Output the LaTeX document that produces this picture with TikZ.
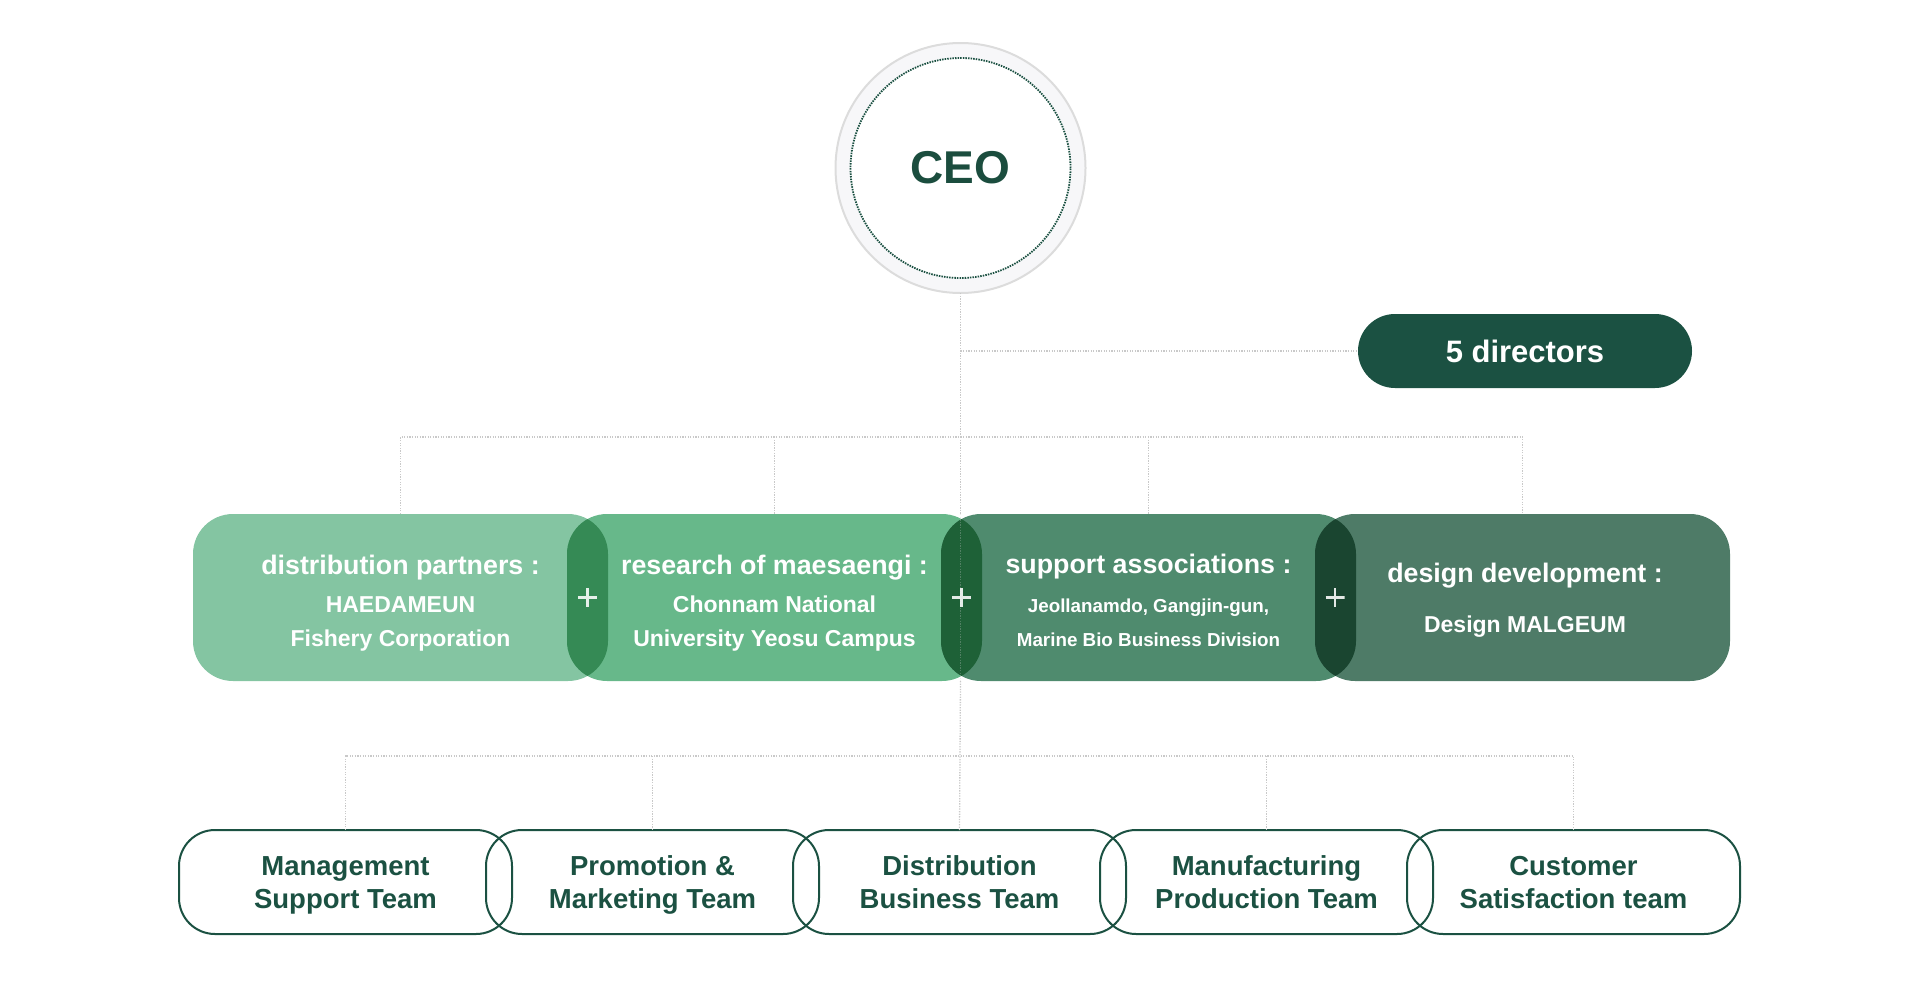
\documentclass[tikz,border=0pt]{standalone}
\usepackage{fontspec}
\setmainfont{Liberation Sans}
\definecolor{dkgreen}{HTML}{1B5142}
\definecolor{ceotext}{HTML}{1B4D3E}
\definecolor{linegrey}{HTML}{C9C9C9}
\definecolor{ringfill}{HTML}{F7F7F9}
\definecolor{ringline}{HTML}{DCDCDC}
\definecolor{boxA}{HTML}{84C5A2}
\definecolor{boxB}{HTML}{67B88A}
\definecolor{boxC}{HTML}{4F8B6E}
\definecolor{boxD}{HTML}{4E7B67}
\definecolor{lensAB}{HTML}{358A55}
\definecolor{lensBC}{HTML}{1E6137}
\definecolor{lensCD}{HTML}{1A4530}
\begin{document}
\begin{tikzpicture}[x=1pt,y=-1pt,
  conn/.style={draw=linegrey, line width=1.3pt, dash pattern=on 1.3pt off 1.3pt},
  partbox/.style={rectangle, rounded corners=40pt, minimum width=415pt, minimum height=167pt, inner sep=0pt, outer sep=0pt},
  teambox/.style={rectangle, rounded corners=36pt, minimum width=333pt, minimum height=104pt, draw=dkgreen, line width=2pt, outer sep=0pt},
  teamtext/.style={align=center, text=dkgreen, font=\fontsize{27.5}{33}\selectfont\bfseries, inner sep=0pt},
  ttl/.style={text=white, font=\fontsize{26.8}{30}\selectfont\bfseries, anchor=base, inner sep=0pt},
  sub/.style={text=white, font=\fontsize{23}{26}\selectfont\bfseries, anchor=base, inner sep=0pt},
  subsmall/.style={text=white, font=\fontsize{18.8}{22}\selectfont\bfseries, anchor=base, inner sep=0pt},
  plusmark/.style={minimum size=19pt, inner sep=0pt, path picture={\draw[white, opacity=0.88, line width=2.1pt] (path picture bounding box.west) -- (path picture bounding box.east) (path picture bounding box.north) -- (path picture bounding box.south);}}
]
\useasboundingbox (0,0) rectangle (1920,996);

% CEO
\node[circle, minimum size=250pt, fill=ringfill, draw=ringline, line width=2pt, inner sep=0pt, outer sep=0pt] (ceoring) at (960.5,168) {};
\node[circle, minimum size=220pt, fill=white, draw=dkgreen, line width=1.8pt, dash pattern=on 1.5pt off 1.1pt, inner sep=0pt, outer sep=0pt, text=ceotext, font=\fontsize{46}{52}\selectfont\bfseries] (ceo) at (960.5,168) {CEO};

% directors
\node[rectangle, rounded corners=37pt, minimum width=334pt, minimum height=74pt, fill=dkgreen, text=white, font=\fontsize{31}{36}\selectfont\bfseries, inner sep=0pt] (dir) at (1525,351) {5 directors};

% boxes
\node[partbox, fill=boxA] (b1) at (400.5,597.5) {};
\node[partbox, fill=boxB] (b2) at (774.5,597.5) {};
\node[partbox, fill=boxC] (b3) at (1148.5,597.5) {};
\node[partbox, fill=boxD] (b4) at (1522.5,597.5) {};

% connectors
\coordinate (bus1) at (960.5,437);
\coordinate (bus2) at (960.5,756);
\coordinate (dj) at (960.5,351);
\draw[conn] (ceoring.south) -- (bus1);
\draw[conn] (dj) -- (dir.west);
\draw[conn] (b1.north) -- (b1.north |- bus1) -- (b4.north |- bus1) -- (b4.north);
\draw[conn] (b2.north |- bus1) -- (b2.north);
\draw[conn] (b3.north |- bus1) -- (b3.north);
\draw[conn] (bus1) -- (b3.north -| bus1);

% lenses
\begin{scope}
\clip[rounded corners=40pt] (b1.south west) rectangle (b1.north east);
\fill[lensAB, rounded corners=40pt] (b2.south west) rectangle (b2.north east);
\end{scope}
\begin{scope}
\clip[rounded corners=40pt] (b2.south west) rectangle (b2.north east);
\fill[lensBC, rounded corners=40pt] (b3.south west) rectangle (b3.north east);
\end{scope}
\begin{scope}
\clip[rounded corners=40pt] (b3.south west) rectangle (b3.north east);
\fill[lensCD, rounded corners=40pt] (b4.south west) rectangle (b4.north east);
\end{scope}
\draw[conn, opacity=0.3] (b3.north -| bus1) -- (b3.south -| bus1);
\node[plusmark] (p12) at (587.5,597.5) {};
\node[plusmark] (p23) at (961.5,597.5) {};
\node[plusmark] (p34) at (1335,597.5) {};

% box texts
\node[ttl] (b1t) at (400.5,574) {distribution partners :};
\node[sub] (b1a) at (400.5,612) {HAEDAMEUN};
\node[sub] (b1b) at (400.5,646) {Fishery Corporation};
\node[ttl] (b2t) at (774.5,574) {research of maesaengi :};
\node[sub] (b2a) at (774.5,612) {Chonnam National};
\node[sub] (b2b) at (774.5,646) {University Yeosu Campus};
\node[ttl] (b3t) at (1148.5,573) {support associations :};
\node[subsmall] (b3a) at (1148.5,612) {Jeollanamdo, Gangjin-gun,};
\node[subsmall] (b3b) at (1148.5,646) {Marine Bio Business Division};
\node[ttl] (b4t) at (1525,582) {design development :};
\node[sub] (b4a) at (1525,632) {Design MALGEUM};

% teams
\node[teambox] (t1) at (345.5,882) {};
\node[teambox] (t2) at (652.5,882) {};
\node[teambox] (t3) at (959.5,882) {};
\node[teambox] (t4) at (1266.5,882) {};
\node[teambox] (t5) at (1573.5,882) {};
\node[teamtext] (t1l) at ([yshift=-3pt]t1.center) {\strut Management\\\strut Support Team};
\node[teamtext] (t2l) at ([yshift=-3pt]t2.center) {\strut Promotion \&\\\strut Marketing Team};
\node[teamtext] (t3l) at ([yshift=-3pt]t3.center) {\strut Distribution\\\strut Business Team};
\node[teamtext] (t4l) at ([yshift=-3pt]t4.center) {\strut Manufacturing\\\strut Production Team};
\node[teamtext] (t5l) at ([yshift=-3pt]t5.center) {\strut Customer\\\strut Satisfaction team};

\draw[conn] (b3.south -| bus2) -- (t3.north);
\draw[conn] (t1.north) -- (t1.north |- bus2) -- (t5.north |- bus2) -- (t5.north);
\draw[conn] (t2.north |- bus2) -- (t2.north);
\draw[conn] (t4.north |- bus2) -- (t4.north);
\end{tikzpicture}
\end{document}
